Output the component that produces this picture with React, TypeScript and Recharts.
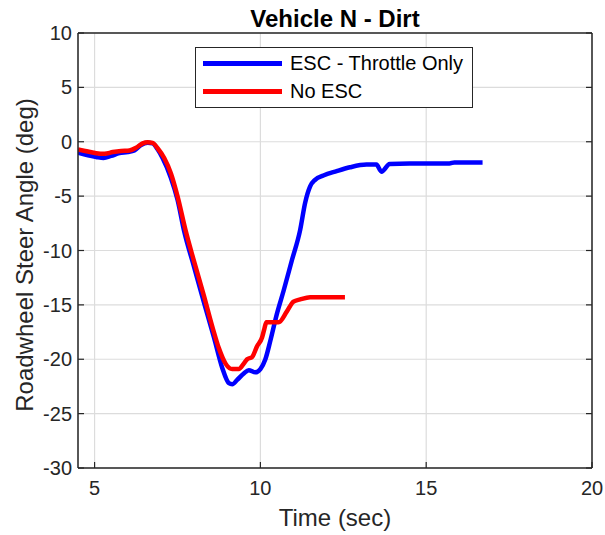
import React from "react";
import {
  CartesianGrid,
  Label,
  Legend,
  Line,
  LineChart,
  XAxis,
  YAxis
} from "recharts";

// ESC - Throttle Only run
const escTime = [
  4.5, 4.8, 5.05, 5.27, 5.5, 5.75, 6.0, 6.2, 6.4, 6.6, 6.75, 6.9, 7.05, 7.3, 7.5, 7.7,
  8.0, 8.3, 8.6, 8.85, 9.05, 9.15, 9.3, 9.5, 9.65, 9.85, 10.0, 10.15, 10.3, 10.5, 10.7,
  10.95, 11.2, 11.35, 11.5, 11.65, 11.9, 12.3, 12.7, 13.2, 13.5, 13.65, 13.9, 14.5, 15.0,
  15.7, 15.85, 16.7
];
const escAngle = [
  -1.0, -1.25, -1.4, -1.5, -1.3, -1.05, -0.95, -0.8, -0.3, -0.1, -0.15, -0.7, -1.5, -3.3,
  -5.3, -8.2, -11.5, -14.8, -18.0, -20.8, -22.2, -22.3, -21.9, -21.3, -21.0, -21.2, -20.9,
  -20.0, -18.3, -15.8, -13.7, -10.9, -8.1, -5.6, -4.1, -3.5, -3.1, -2.7, -2.35, -2.1, -2.1,
  -2.75, -2.05, -2.0, -2.0, -2.0, -1.9, -1.9
];

// No ESC run
const noEscTime = [
  4.5, 4.8, 5.05, 5.3, 5.55, 5.8, 6.05, 6.25, 6.45, 6.6, 6.75, 6.9, 7.1, 7.3, 7.5, 7.74,
  8.0, 8.3, 8.55, 8.75, 8.95, 9.15, 9.35, 9.5, 9.6, 9.75, 9.9, 10.05, 10.12, 10.18, 10.55,
  10.8, 11.0, 11.2, 11.5, 12.55
];
const noEscAngle = [
  -0.7, -0.9, -1.05, -1.1, -0.95, -0.85, -0.8, -0.55, -0.15, -0.05, -0.1, -0.6, -1.5, -2.9,
  -5.0, -8.1, -11.0, -14.2, -17.0, -19.0, -20.4, -20.9, -20.9, -20.4, -20.0, -19.8, -18.8,
  -18.0, -17.2, -16.6, -16.6, -15.6, -14.7, -14.5, -14.3, -14.3
];

const xTicks = [5, 10, 15, 20];
const yTicks = [-30, -25, -20, -15, -10, -5, 0, 5, 10];

const escData = escTime.map((t, i) => ({ t, v: escAngle[i] }));
const noEscData = noEscTime.map((t, i) => ({ t, v: noEscAngle[i] }));

const FONT = "'Liberation Sans', Arial, Helvetica, sans-serif";
const INK = "#262626";
const tickStyle = { fill: INK, fontSize: 20, fontFamily: FONT };

function LegendBox({ payload }: any) {
  return (
    <div
      style={{
        border: `1.5px solid ${INK}`,
        background: "#fff",
        boxSizing: "border-box",
        width: 278,
        height: 61,
        paddingTop: 1,
        fontFamily: FONT,
        fontSize: 20,
        color: "#000"
      }}
    >
      {(payload ?? []).map((item: any) => (
        <div
          key={item.value}
          style={{ display: "flex", alignItems: "center", height: 28, paddingLeft: 7 }}
        >
          <span
            style={{
              display: "inline-block",
              width: 79,
              height: 5,
              background: item.color,
              marginRight: 8
            }}
          />
          <span>{item.value}</span>
        </div>
      ))}
    </div>
  );
}

export default function App() {
  return (
    <div style={{ position: "absolute", left: 0, top: 0, background: "#fff" }}>
      <LineChart
        width={605}
        height={535}
        margin={{ top: 32, right: 12, left: 8, bottom: 27 }}
      >
        <CartesianGrid stroke="#dcdcdc" strokeWidth={1.2} />
        <XAxis
          dataKey="t"
          type="number"
          domain={[4.5, 20]}
          allowDataOverflow
          ticks={xTicks}
          height={40}
          tickSize={-6}
          tickMargin={19}
          tick={tickStyle}
          stroke={INK}
          axisLine={{ stroke: INK, strokeWidth: 1.5 }}
          tickLine={{ stroke: INK, strokeWidth: 1.2 }}
        >
          <Label
            content={() => (
              <text
                x={335}
                y={526}
                textAnchor="middle"
                fill={INK}
                fontSize={24}
                fontFamily={FONT}
              >
                Time (sec)
              </text>
            )}
          />
        </XAxis>
        <XAxis
          xAxisId="top"
          orientation="top"
          type="number"
          domain={[4.5, 20]}
          allowDataOverflow
          ticks={xTicks}
          height={1}
          tickSize={-6}
          tickFormatter={() => ""}
          axisLine={{ stroke: INK, strokeWidth: 1.5 }}
          tickLine={{ stroke: INK, strokeWidth: 1.2 }}
        >
          <Label
            content={() => (
              <text
                x={335}
                y={27}
                textAnchor="middle"
                fill="#000"
                fontSize={24}
                fontWeight="bold"
                fontFamily={FONT}
              >
                Vehicle N - Dirt
              </text>
            )}
          />
        </XAxis>
        <YAxis
          type="number"
          domain={[-30, 10]}
          allowDataOverflow
          ticks={yTicks}
          width={70}
          tickSize={-6}
          tickMargin={12}
          tick={tickStyle}
          axisLine={{ stroke: INK, strokeWidth: 1.5 }}
          tickLine={{ stroke: INK, strokeWidth: 1.2 }}
        >
          <Label
            content={() => (
              <text
                x={33}
                y={255}
                transform="rotate(-90 33 255)"
                textAnchor="middle"
                fill={INK}
                fontSize={24}
                fontFamily={FONT}
              >
                Roadwheel Steer Angle (deg)
              </text>
            )}
          />
        </YAxis>
        <YAxis
          yAxisId="right"
          orientation="right"
          type="number"
          domain={[-30, 10]}
          allowDataOverflow
          ticks={yTicks}
          width={1}
          tickSize={-6}
          tickFormatter={() => ""}
          axisLine={{ stroke: INK, strokeWidth: 1.5 }}
          tickLine={{ stroke: INK, strokeWidth: 1.2 }}
        />
        <Legend
          layout="horizontal"
          verticalAlign="middle"
          align="center"
          content={<LegendBox />}
          wrapperStyle={{ top: 47, left: 195, width: 278, height: 61 }}
        />
        <Line
          data={escData}
          dataKey="v"
          name="ESC - Throttle Only"
          type="monotone"
          stroke="#0000ff"
          strokeWidth={4.5}
          strokeLinejoin="round"
          dot={false}
          activeDot={false}
          isAnimationActive={false}
        />
        <Line
          data={noEscData}
          dataKey="v"
          name="No ESC"
          type="monotone"
          stroke="#ff0000"
          strokeWidth={4.5}
          strokeLinejoin="round"
          dot={false}
          activeDot={false}
          isAnimationActive={false}
        />
      </LineChart>
    </div>
  );
}
